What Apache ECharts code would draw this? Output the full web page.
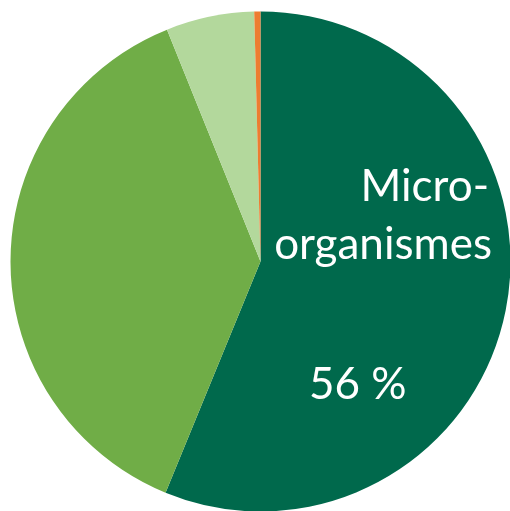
<!DOCTYPE html>
<html>
<head>
<meta charset="utf-8">
<script src="https://cdn.jsdelivr.net/npm/echarts@6/dist/echarts.min.js"></script>
<style>
  html, body { margin: 0; padding: 0; background: #fff; }
  #pie-chart { width: 510px; height: 511px; }
</style>
</head>
<body>
<div id="pie-chart"></div>
<script>
// slices clockwise from 12 o'clock
const categories = ["Micro-organismes", "Catégorie B", "Catégorie C", "Catégorie D"];
const values = [56.2, 37.7, 5.7, 0.4];
const colors = ["#00694C", "#70AD47", "#B3D89C", "#ED7D31"];
const labelLines = ["Micro-", "organismes"];
const percentLabel = Math.round(values[0]) + " %";

const chartDom = document.getElementById("pie-chart");
const myChart = echarts.init(chartDom);

const textStyle = { fill: "#fff", fontFamily: "Lato", fontSize: 44 };

const option = {
  animation: false,
  series: [
    {
      type: "pie",
      center: [260.5, 261.5],
      radius: 250,
      startAngle: 90,
      clockwise: true,
      label: { show: false },
      labelLine: { show: false },
      itemStyle: { borderWidth: 0 },
      emphasis: { disabled: true },
      data: categories.map((name, i) => ({
        name: name,
        value: values[i],
        itemStyle: { color: colors[i] },
      })),
    },
  ],
  graphic: [
    {
      type: "text",
      z: 100,
      right: 21,
      top: 165,
      style: Object.assign({ text: labelLines[0] }, textStyle),
    },
    {
      type: "text",
      z: 100,
      right: 18,
      top: 223,
      style: Object.assign({ text: labelLines[1] }, textStyle),
    },
    {
      type: "text",
      z: 100,
      left: 309,
      top: 363,
      style: Object.assign({ text: percentLabel }, textStyle),
    },
  ],
};

myChart.setOption(option);
</script>
</body>
</html>
